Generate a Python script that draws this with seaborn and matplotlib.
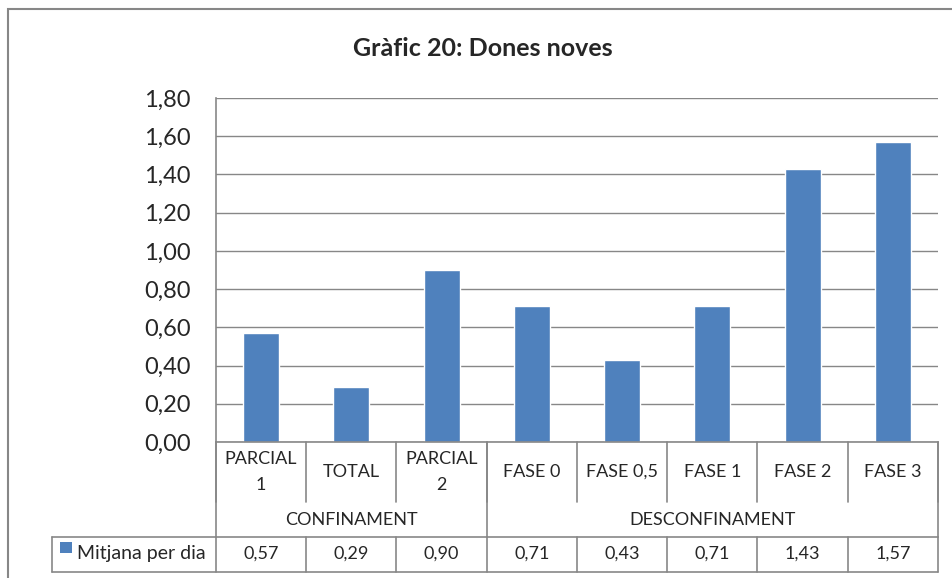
import matplotlib
matplotlib.use('Agg')
import matplotlib.pyplot as plt
import seaborn as sns
import pandas as pd
from matplotlib.patches import Rectangle
from matplotlib.transforms import blended_transform_factory

# --- Data ---
categories = ['PARCIAL\n1', 'TOTAL', 'PARCIAL\n2', 'FASE 0', 'FASE 0,5', 'FASE 1', 'FASE 2', 'FASE 3']
values = [0.57, 0.29, 0.90, 0.71, 0.43, 0.71, 1.43, 1.57]
groups = ['CONFINAMENT', 'DESCONFINAMENT']
group_sizes = [3, 5]
series_name = 'Mitjana per dia'
title = 'Gràfic 20: Dones noves'
yticks = [0.0, 0.2, 0.4, 0.6, 0.8, 1.0, 1.2, 1.4, 1.6, 1.8]

bar_color = '#4F81BD'
line_color = '#878787'

sns.set_style('white')
plt.rcParams['font.family'] = ['Lato', 'DejaVu Sans']

df = pd.DataFrame({'cat': categories, 'val': values})

W, H = 953, 578
fig = plt.figure(figsize=(W / 100, H / 100), dpi=100)

# outer chart border (cut off at right and bottom, like the screenshot)
fig.patches.append(Rectangle((8 / W, -0.1), 1.2, 1 - 9 / H + 0.1, transform=fig.transFigure,
                             fill=False, edgecolor=line_color, linewidth=1.5))

ax = fig.add_axes([216 / W, 1 - 442 / H, (938 - 216) / W, (442 - 98) / H])
sns.barplot(data=df, x='cat', y='val', color=bar_color, width=0.4, saturation=1, ax=ax)

ax.set_ylim(0, 1.8)
ax.set_xlim(-0.5, len(categories) - 0.5)
ax.set_yticks(yticks)
ax.set_yticklabels([f'{t:.2f}'.replace('.', ',') for t in yticks], fontsize=17)
ax.set_xticks([])
ax.set_xlabel('')
ax.set_ylabel('')
ax.tick_params(axis='y', length=0, pad=18)
ax.yaxis.grid(True, color=line_color, linewidth=1)
ax.set_axisbelow(True)
for s in ['top', 'right']:
    ax.spines[s].set_visible(False)
for s in ['left', 'bottom']:
    ax.spines[s].set_color(line_color)
    ax.spines[s].set_linewidth(1.2)

fig.text(482.5 / W, 1 - 49 / H, title, ha='center', va='center', fontsize=18, fontweight='bold')

# --- data table under the axis ---
axh = 442 - 98
def yf(py):
    return -(py - 442) / axh

tx = ax.get_xaxis_transform()
kw = dict(transform=tx, clip_on=False, color=line_color, linewidth=1.2)
n = len(categories)
y_cat_bot = yf(502)
y_tab_top = yf(537)
y_tab_bot = yf(572)

# separators inside category row
for i in range(n + 1):
    ax.plot([i - 0.5, i - 0.5], [0, y_cat_bot], **kw)
# group boundaries through group row
pos = -0.5
bounds = [pos]
for g in group_sizes:
    pos += g
    bounds.append(pos)
for b in bounds:
    ax.plot([b, b], [0, y_tab_top], **kw)
# table row lines
for i in range(n + 1):
    ax.plot([i - 0.5, i - 0.5], [y_tab_top, y_tab_bot], **kw)

# category labels
for i, c in enumerate(categories):
    ax.text(i, yf(472), c, transform=tx, ha='center', va='center', fontsize=13, linespacing=1.75)
# group labels
for g, a, b in zip(groups, bounds[:-1], bounds[1:]):
    ax.text((a + b) / 2, yf(520), g, transform=tx, ha='center', va='center', fontsize=13)
# values
for i, v in enumerate(values):
    ax.text(i, yf(554), f'{v:.2f}'.replace('.', ','), transform=tx, ha='center', va='center', fontsize=13)

# legend cell
bt = blended_transform_factory(fig.transFigure, ax.transAxes)
x0 = 52 / W
lkw = dict(transform=bt, clip_on=False, color=line_color, linewidth=1.2)
ax.plot([x0, 938 / W], [y_tab_top, y_tab_top], **lkw)
ax.plot([x0, 938 / W], [y_tab_bot, y_tab_bot], **lkw)
ax.plot([x0, x0], [y_tab_top, y_tab_bot], **lkw)
ax.add_patch(Rectangle((60 / W, yf(553)), 12 / W, 11 / axh, transform=bt, clip_on=False,
                       facecolor=bar_color, edgecolor='none'))
ax.text(77 / W, yf(554), series_name, transform=bt, ha='left', va='center', fontsize=14)

fig.savefig('out.png', dpi=100)
